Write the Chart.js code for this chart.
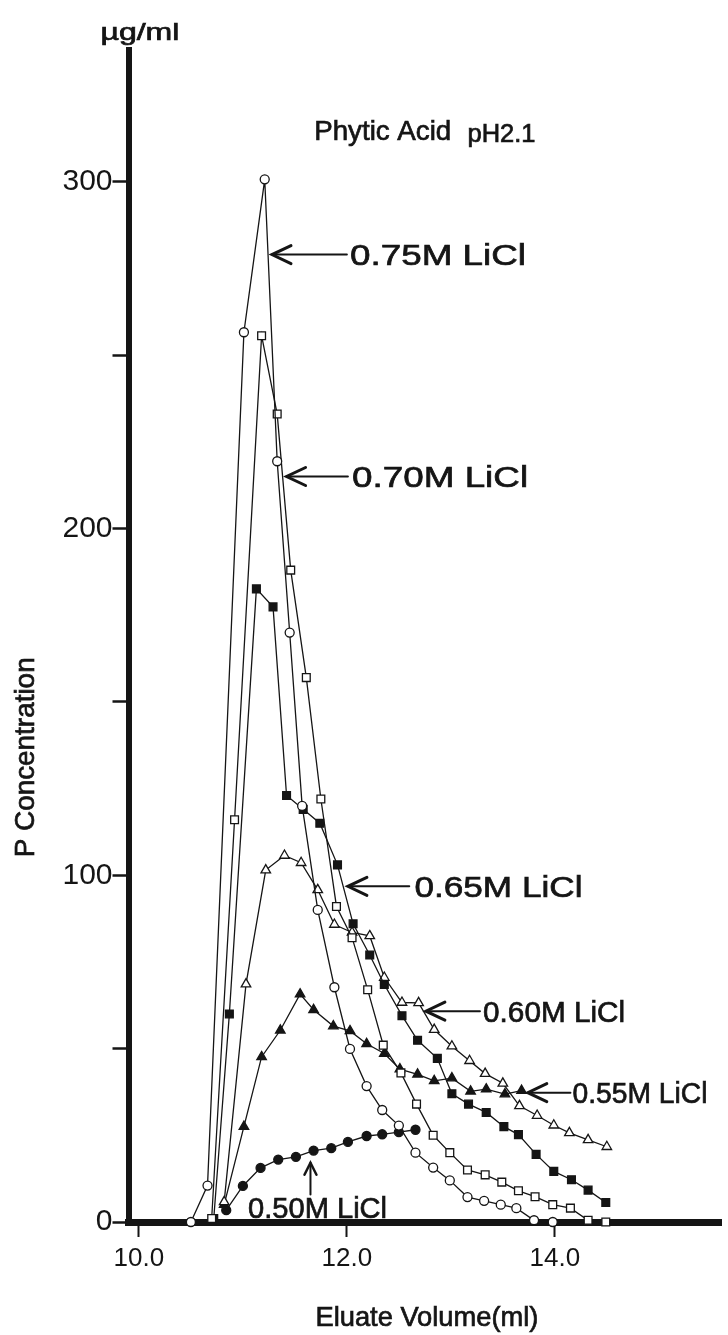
<!DOCTYPE html>
<html>
<head>
<meta charset="utf-8">
<title>Phytic Acid pH 2.1</title>
<script src="https://cdn.jsdelivr.net/npm/chart.js@4.4.0/dist/chart.umd.min.js"></script>
<style>
  html, body { margin: 0; padding: 0; background: #fff; }
  #wrap { position: relative; width: 728px; height: 1335px; }
</style>
</head>
<body>
<div id="wrap"><canvas id="chart"></canvas></div>
<script>
'use strict';

// eluate volume (ml) / P concentration (ug/ml), one pair per LiCl molarity
let vol75 = [10.50, 10.66, 11.01, 11.21, 11.33, 11.45, 11.57, 11.72, 11.88, 12.03, 12.19, 12.34, 12.50, 12.66, 12.83, 12.99, 13.16, 13.32, 13.48, 13.63, 13.80, 13.98];
let conc75 = [0, 10.5, 256.6, 300.7, 219.4, 170, 120, 90, 67.7, 49.9, 39.2, 32.3, 27.8, 20, 15.7, 12, 7.2, 6.1, 5, 4, 0.5, 0];

let vol70 = [10.70, 10.92, 11.18, 11.33, 11.46, 11.61, 11.75, 11.90, 12.05, 12.20, 12.35, 12.52, 12.67, 12.83, 12.99, 13.16, 13.33, 13.49, 13.65, 13.81, 13.98, 14.15, 14.32, 14.49];
let conc70 = [1, 116, 255.6, 233, 188, 157, 122, 91, 82, 67, 51, 43, 34, 25, 20, 15, 13.6, 11.5, 9, 7.3, 5, 4, 0.5, 0];

let vol65 = [10.72, 10.87, 11.13, 11.29, 11.42, 11.58, 11.74, 11.91, 12.06, 12.22, 12.36, 12.53, 12.68, 12.87, 13.01, 13.17, 13.34, 13.51, 13.65, 13.82, 13.99, 14.16, 14.32, 14.49];
let conc65 = [1, 60, 182.6, 177.4, 123, 119, 115, 103, 86, 77, 68.5, 59.5, 52.4, 47.2, 37, 34, 31.6, 27.5, 25.2, 19.5, 14.6, 12.2, 9.2, 5.6];

let vol60 = [10.82, 11.03, 11.22, 11.40, 11.56, 11.72, 11.88, 12.05, 12.22, 12.36, 12.53, 12.69, 12.84, 13.01, 13.18, 13.33, 13.50, 13.66, 13.83, 13.99, 14.14, 14.32, 14.50];
let conc60 = [5.8, 68.6, 101.5, 105.7, 103.6, 95.8, 85.8, 83.5, 82.5, 70.5, 63.3, 63.2, 55.5, 50.7, 46.5, 42.8, 40, 33.5, 30.7, 27.9, 25.7, 23.7, 21.7];

let vol55 = [10.82, 11.01, 11.18, 11.36, 11.55, 11.68, 11.87, 12.03, 12.19, 12.36, 12.51, 12.68, 12.84, 13.01, 13.19, 13.34, 13.52, 13.68];
let conc55 = [5, 27.5, 47.6, 55.3, 65.7, 61.2, 56.5, 55.1, 51.4, 48.6, 44.1, 42.6, 40.7, 41.5, 37.7, 38.3, 36.9, 37.9];

let vol50 = [10.84, 11.00, 11.17, 11.34, 11.51, 11.68, 11.85, 12.01, 12.19, 12.34, 12.50, 12.66];
let conc50 = [3.4, 10.4, 15.6, 18, 18.8, 20.6, 21.3, 23.1, 24.8, 25.3, 25.9, 26.6];

let xTicks = [10, 12, 14];
let xTickLabels = ['10.0', '12.0', '14.0'];
let yTicks = [0, 50, 100, 150, 200, 250, 300];
let yTickLabels = ['0', '', '100', '', '200', '', '300'];

let ink = '#151515';
let face = '"Liberation Sans", Arial, sans-serif';

// labels and arrows, placed in data units (x = ml, y = ug/ml)
let notes = [
  {text: '0.75M LiCl', x: 12.03, y: 279, tip: 11.28, tail: 12.0, size: 30, width: 176},
  {text: '0.70M LiCl', x: 12.05, y: 215, tip: 11.42, tail: 12.01, size: 30, width: 176},
  {text: '0.65M LiCl', x: 12.65, y: 96.8, tip: 12.01, tail: 12.60, size: 30, width: 168},
  {text: '0.60M LiCl', x: 13.31, y: 60.8, tip: 12.76, tail: 13.28, size: 29, width: 142},
  {text: '0.55M LiCl', x: 14.17, y: 37.3, tip: 13.74, tail: 14.15, size: 29, width: 135}
];

function points(xs, ys) {
  return xs.map(function(x, i) {
    return {x: x, y: ys[i]};
  });
}

function series(label, xs, ys, shape, filled, radius) {
  return {
    label: label,
    data: points(xs, ys),
    showLine: true,
    clip: false,
    borderColor: ink,
    borderWidth: 1.3,
    pointStyle: shape,
    pointRadius: radius,
    pointBorderColor: ink,
    pointBorderWidth: 1.3,
    pointBackgroundColor: filled ? ink : '#fff'
  };
}

// draws text squeezed/stretched to a given pixel width, a bit heavier like the print
function fitText(c, text, x, y, size, width, align) {
  c.save();
  c.font = size + 'px ' + face;
  let k = width / c.measureText(text).width;
  c.translate(x, y);
  c.scale(k, 1);
  c.textAlign = align || 'left';
  c.textBaseline = 'alphabetic';
  c.fillStyle = ink;
  c.strokeStyle = ink;
  c.lineWidth = 0.7;
  c.fillText(text, 0, 0);
  c.strokeText(text, 0, 0);
  c.restore();
}

let annotate = {
  id: 'annotate',
  afterDraw: function(chart) {
    let c = chart.ctx;
    let sx = chart.scales.x;
    let sy = chart.scales.y;
    c.save();
    c.strokeStyle = ink;
    c.lineCap = 'round';

    notes.forEach(function(n) {
      let yy = sy.getPixelForValue(n.y);
      let x0 = sx.getPixelForValue(n.tip);
      let x1 = sx.getPixelForValue(n.tail);
      c.lineWidth = 2;
      c.beginPath();
      c.moveTo(x0, yy);
      c.lineTo(x1, yy);
      c.stroke();
      c.lineWidth = 3;
      c.beginPath();
      c.moveTo(x0 + 19, yy - 9);
      c.lineTo(x0, yy);
      c.lineTo(x0 + 19, yy + 9);
      c.stroke();
      fitText(c, n.text, sx.getPixelForValue(n.x), yy + 0.36 * n.size, n.size, n.width);
    });

    // 0.50M label with the upward arrow
    let ax = sx.getPixelForValue(11.65);
    let ay0 = sy.getPixelForValue(7.9);
    let ay1 = sy.getPixelForValue(17.1);
    c.lineWidth = 2;
    c.beginPath();
    c.moveTo(ax, ay0);
    c.lineTo(ax, ay1);
    c.stroke();
    c.lineWidth = 2.5;
    c.beginPath();
    c.moveTo(ax - 6, ay1 + 12);
    c.lineTo(ax, ay1);
    c.lineTo(ax + 6, ay1 + 12);
    c.stroke();
    fitText(c, '0.50M LiCl', sx.getPixelForValue(11.05), sy.getPixelForValue(3.9) + 10, 29, 139);

    fitText(c, 'Phytic Acid', sx.getPixelForValue(11.686), sy.getPixelForValue(312), 28, 137);
    fitText(c, 'pH2.1', sx.getPixelForValue(13.16), sy.getPixelForValue(311.5), 25, 68);
    fitText(c, '\u00b5g/ml', sx.getPixelForValue(9.63), sy.getPixelForValue(341), 24, 79);
    fitText(c, 'Eluate Volume(ml)', sx.getPixelForValue(12.77), sy.getPixelForValue(-30), 28, 223, 'center');

    c.save();
    c.translate(sx.getPixelForValue(8.895) + 10, sy.getPixelForValue(134));
    c.rotate(-Math.PI / 2);
    fitText(c, 'P Concentration', 0, 0, 28, 200, 'center');
    c.restore();

    c.restore();
  }
};

let ctx = document.getElementById('chart');

new Chart(ctx, {
  type: 'scatter',
  data: {
    datasets: [
      series('0.75M LiCl', vol75, conc75, 'circle', false, 4.5),
      series('0.70M LiCl', vol70, conc70, 'rect', false, 5.5),
      series('0.65M LiCl', vol65, conc65, 'rect', true, 5.5),
      series('0.60M LiCl', vol60, conc60, 'triangle', false, 5.5),
      series('0.55M LiCl', vol55, conc55, 'triangle', true, 5.5),
      series('0.50M LiCl', vol50, conc50, 'circle', true, 4.5)
    ]
  },
  options: {
    responsive: true,
    maintainAspectRatio: false,
    animation: false,
    layout: {padding: {top: 50, right: 1, left: 0, bottom: 0}},
    plugins: {
      legend: {display: false},
      tooltip: {enabled: false}
    },
    scales: {
      x: {
        type: 'linear',
        min: 9.9,
        max: 15.6,
        afterFit: function(s) { s.height = 113; s.paddingLeft = 0; s.paddingRight = 0; },
        afterBuildTicks: function(s) {
          s.ticks = xTicks.map(function(v) { return {value: v}; });
        },
        ticks: {
          autoSkip: false,
          maxRotation: 0,
          color: ink,
          padding: 6,
          font: {family: face, size: 26},
          callback: function(v, i) { return xTickLabels[i]; }
        },
        grid: {drawOnChartArea: false, drawTicks: true, tickLength: 15, tickWidth: 2, tickColor: ink},
        border: {display: true, color: ink, width: 7}
      },
      y: {
        type: 'linear',
        min: 0,
        max: 338,
        afterFit: function(s) { s.width = 128.5; s.paddingTop = 0; s.paddingBottom = 0; },
        afterBuildTicks: function(s) {
          s.ticks = yTicks.map(function(v) { return {value: v}; });
        },
        ticks: {
          color: ink,
          padding: 0,
          font: {family: face, size: 30},
          callback: function(v, i) { return yTickLabels[i]; }
        },
        grid: {drawOnChartArea: false, drawTicks: true, tickLength: 16, tickWidth: 2.5, tickColor: ink},
        border: {display: true, color: ink, width: 6}
      }
    }
  },
  plugins: [annotate]
});
</script>
</body>
</html>
